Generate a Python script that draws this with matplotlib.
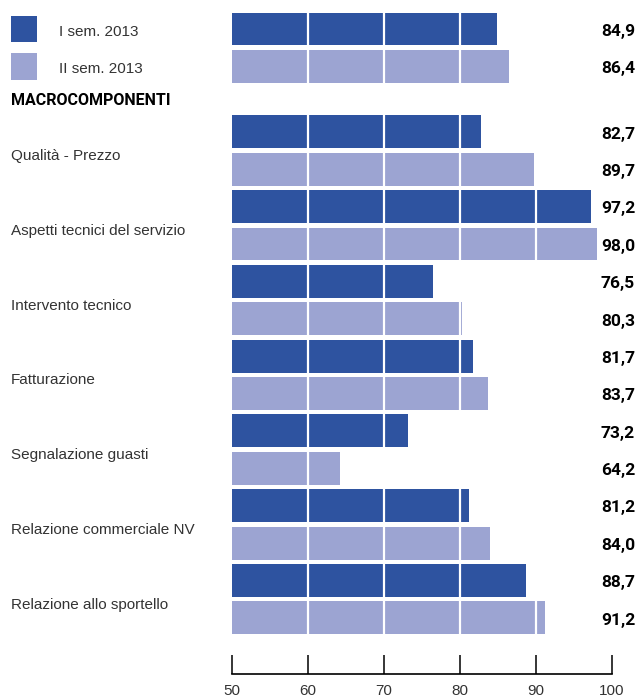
import matplotlib
matplotlib.use("Agg")
import matplotlib.pyplot as plt
import matplotlib.transforms as mtransforms
from matplotlib.patches import Rectangle

# ----------------------------------------------------------------------
# DATI
series_names = ["I sem. 2013", "II sem. 2013"]
total_values = [84.9, 86.4]

categories = [
    "Qualità - Prezzo",
    "Aspetti tecnici del servizio",
    "Intervento tecnico",
    "Fatturazione",
    "Segnalazione guasti",
    "Relazione commerciale NV",
    "Relazione allo sportello",
]
sem1_values = [82.7, 97.2, 76.5, 81.7, 73.2, 81.2, 88.7]
sem2_values = [89.7, 98.0, 80.3, 83.7, 64.2, 84.0, 91.2]

header = "MACROCOMPONENTI"
x_ticks = [50, 60, 70, 80, 90, 100]

# ----------------------------------------------------------------------
# STILE
DARK = "#2E53A0"
LIGHT = "#9CA4D2"
BOLD = ["Roboto", "DejaVu Sans"]
REGULAR = ["Liberation Sans", "DejaVu Sans"]

W, H = 638, 700
fig = plt.figure(figsize=(W / 100, H / 100), dpi=100)
ax = fig.add_axes([232 / W, 26 / H, 380 / W, 674 / H])

bar_h = 0.88
first_macro = 2.75  # posizione della prima barra dei macrocomponenti

# posizioni (in "slot" di barra)
y_total = [0, 1]
y_sem1 = [first_macro + 2 * i for i in range(len(categories))]
y_sem2 = [y + 1 for y in y_sem1]

def value_bar(y, v, color):
    ax.barh(y, v - 50, left=50, height=bar_h, color=color, linewidth=0, zorder=2)

for y, v, c in zip(y_total, total_values, [DARK, LIGHT]):
    value_bar(y, v, c)
for y, v in zip(y_sem1, sem1_values):
    value_bar(y, v, DARK)
for y, v in zip(y_sem2, sem2_values):
    value_bar(y, v, LIGHT)

# linee bianche sopra le barre
ax.vlines(x_ticks[1:-1], -0.6, y_sem2[-1] + 0.6, colors="white", linewidth=1.6, zorder=3)

ax.set_xlim(50, 100)
ax.set_ylim(17.25, -0.775)

for s in ["left", "top", "right"]:
    ax.spines[s].set_visible(False)
ax.spines["bottom"].set_linewidth(1.2)
ax.set_yticks([])
ax.set_xticks(x_ticks)
ax.tick_params(axis="x", direction="in", length=13.7, width=1.1, pad=7,
               labelsize=11, labelcolor="#333333")
for lab in ax.get_xticklabels():
    lab.set_family(REGULAR)

# etichette valori a destra
tr = mtransforms.blended_transform_factory(fig.transFigure, ax.transData)
all_y = y_total + y_sem1 + y_sem2
all_v = total_values + sem1_values + sem2_values
for y, v in zip(all_y, all_v):
    ax.text(635 / W, y + 0.06, f"{v:.1f}".replace(".", ","), transform=tr,
            ha="right", va="center", fontsize=12.5, fontweight="bold",
            family=BOLD, color="black")

# legenda
for y, name, c in zip(y_total, series_names, [DARK, LIGHT]):
    fig.patches.append(Rectangle((11 / W, y - 0.36), 26 / W, 0.72,
                                 transform=tr, color=c, linewidth=0))
    ax.text(59 / W, y + 0.08, name, transform=tr, ha="left", va="center",
            fontsize=11, family=REGULAR, color="#333333")

# intestazione
ax.text(11 / W, 1.92, header, transform=tr, ha="left", va="center",
        fontsize=11.5, fontweight="bold", family=BOLD, color="black")

# categorie
for y, cat in zip(y_sem1, categories):
    ax.text(11 / W, y + 0.65, cat, transform=tr, ha="left", va="center",
            fontsize=11, family=REGULAR, color="#333333")

fig.savefig("out.png", dpi=100)
